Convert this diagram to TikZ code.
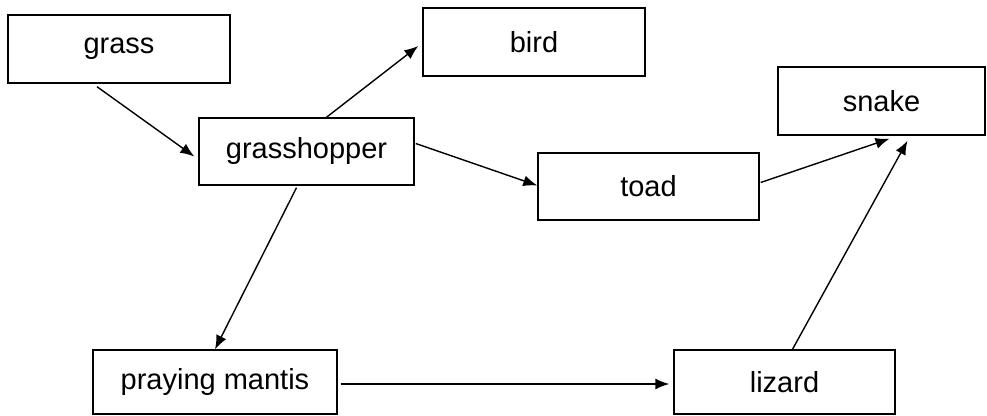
\documentclass[tikz,border=0pt]{standalone}
\usepackage{fontspec}
\setmainfont{Liberation Sans}
\usepackage{tikz}
\usetikzlibrary{arrows.meta,positioning,calc}
\tikzstyle{foodbox} = [draw=black, rectangle, line width=0.7pt, inner sep=0pt,
  font=\fontsize{14.5}{17}\selectfont]
\tikzset{>={Latex[length=7pt,width=5.5pt]}}

\begin{document}
\begin{tikzpicture}[x=0.5pt,y=-0.5pt,line width=0.7pt]
  \useasboundingbox (0,0) rectangle (987,416);
  \node[foodbox, minimum width=111pt, minimum height=34pt] (grass) at (119,49) {grass};
  \node[foodbox, minimum width=111pt, minimum height=34pt] (bird) at (534,42) {bird};
  \node[foodbox, minimum width=107.5pt, minimum height=33.5pt] (hopper) at (306.5,151.5) {grasshopper};
  \node[foodbox, minimum width=110.5pt, minimum height=33.5pt] (toad) at (648.5,186.5) {toad};
  \node[foodbox, minimum width=103.5pt, minimum height=34pt] (snake) at (881.5,101) {snake};
  \node[foodbox, minimum width=122pt, minimum height=32pt] (mantis) at (215,382) {praying mantis};
  \node[foodbox, minimum width=110.5pt, minimum height=32pt] (lizard) at (784.5,382) {lizard};
  %\draw[->] (grass) -- (hopper);
  \draw[->] ($(grass.south)+(-22,3)$) -- ($(hopper.west)+(-4,5)$);
  \draw[->] ($(hopper.north)+(20,0)$) -- ($(bird.west)+(-4,4)$);
  \draw[->] ($(hopper.east)+(1,-8)$) -- ($(toad.west)+(0,-1)$);
  \draw[->] ($(hopper.south)+(-10,2)$) -- (mantis.north);
  \draw[->] ($(toad.east)+(1,-4)$) -- ($(snake.south)+(8,3)$);
  \draw[->] ($(lizard.north)+(8,0)$) -- ($(snake.south)+(26,5)$);
  \draw[->] ($(mantis.east)+(3,2)$) -- ($(lizard.west)+(-4,2)$);
\end{tikzpicture}
\end{document}
